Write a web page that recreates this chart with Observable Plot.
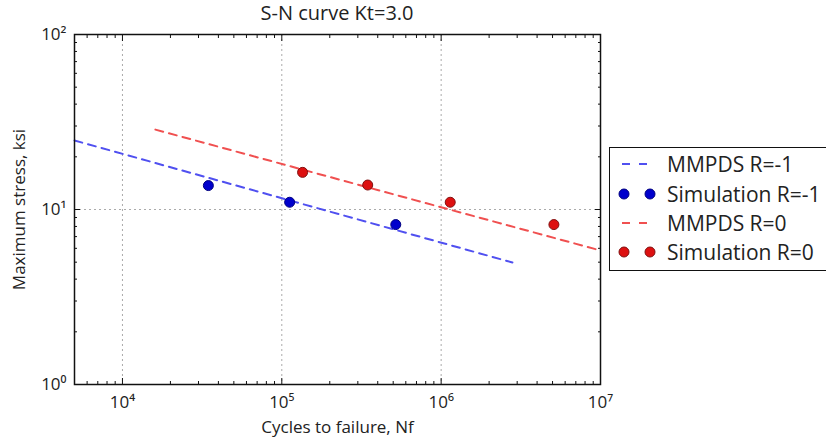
<!DOCTYPE html>
<html>
<head>
<meta charset="utf-8">
<script src="https://cdn.jsdelivr.net/npm/d3@7"></script>
<script src="https://cdn.jsdelivr.net/npm/@observablehq/plot@0.6"></script>
<style>
  body { margin: 0; background: #fff; font-family: "Open Sans", sans-serif; }
  #wrap { position: relative; width: 826px; height: 439px; }
  #title { position: absolute; left: 74px; width: 526px; top: 1px; line-height: 24px; text-align: center; font-size: 20px; color: #222; }
  #legend { position: absolute; left: 609px; top: 147px; width: 230px; height: 124px; border: 1.5px solid #111; box-sizing: border-box; background: #fff; }
  .row { position: absolute; left: 0; height: 30px; display: flex; align-items: center; font-size: 21px; color: #222; white-space: nowrap; }
  .row svg { margin-left: 8px; margin-right: 9px; }
</style>
</head>
<body>
<div id="wrap">
  <div id="chart"></div>
  <div id="title">S-N curve Kt=3.0</div>
  <div id="legend"></div>
</div>
<script>
// Data
const mmpdsNeg1Cycles = [5000, 2.8e6];
const mmpdsNeg1Stress = [24.8, 4.98];
const mmpds0Cycles = [1.61e4, 1.0e7];
const mmpds0Stress = [28.6, 5.83];
const simNeg1Cycles = [3.46e4, 1.12e5, 5.19e5];
const simNeg1Stress = [13.7, 11.0, 8.2];
const sim0Cycles = [1.35e5, 3.46e5, 1.14e6, 5.1e6];
const sim0Stress = [16.3, 13.8, 11.0, 8.2];
const xMajorTicks = [1e4, 1e5, 1e6, 1e7];
const xTickLabels = ["10⁴", "10⁵", "10⁶", "10⁷"];
const yMajorTicks = [1, 10, 100];
const yTickLabels = ["10⁰", "10¹", "10²"];
const legendLabels = ["MMPDS R=-1", "Simulation R=-1", "MMPDS R=0", "Simulation R=0"];

const blueLine = "#5050f0", redLine = "#f05050";
const blueDot = "#0000cc", redDot = "#dd1010";

const zip = (xs, ys) => xs.map((x, i) => ({x, y: ys[i]}));
const lineNeg1 = zip(mmpdsNeg1Cycles, mmpdsNeg1Stress);
const line0 = zip(mmpds0Cycles, mmpds0Stress);
const ptsNeg1 = zip(simNeg1Cycles, simNeg1Stress);
const pts0 = zip(sim0Cycles, sim0Stress);

const xMinor = [], yMinor = [];
for (let e = 3; e < 7; e++) for (let m = 2; m <= 9; m++) { const v = m * 10 ** e; if (v > 5000 && v < 1e7) xMinor.push(v); }
for (let e = 0; e < 2; e++) for (let m = 2; m <= 9; m++) yMinor.push(m * 10 ** e);

const xFmt = d => xTickLabels[xMajorTicks.indexOf(d)] ?? "";
const yFmt = d => yTickLabels[yMajorTicks.indexOf(d)] ?? "";

const chart = Plot.plot({
  width: 826, height: 439,
  marginLeft: 74, marginRight: 226, marginTop: 34, marginBottom: 55,
  style: {fontFamily: "Open Sans, sans-serif", background: "#fff"},
  x: {type: "log", domain: [5000, 1e7]},
  y: {type: "log", domain: [1, 100]},
  marks: [
    Plot.ruleX([1e4, 1e5, 1e6], {stroke: "#aaa", strokeDasharray: "2,3", strokeWidth: 1}),
    Plot.ruleY([10], {stroke: "#aaa", strokeDasharray: "2,3", strokeWidth: 1}),
    Plot.line(lineNeg1, {x: "x", y: "y", stroke: blueLine, strokeWidth: 2, strokeDasharray: "8,6"}),
    Plot.line(line0, {x: "x", y: "y", stroke: redLine, strokeWidth: 2, strokeDasharray: "8,6"}),
    Plot.dot(ptsNeg1, {x: "x", y: "y", r: 5, fill: blueDot, stroke: "#000080", strokeWidth: 1}),
    Plot.dot(pts0, {x: "x", y: "y", r: 5, fill: redDot, stroke: "#801010", strokeWidth: 1}),
    // inward ticks on all sides
    Plot.axisX(xMajorTicks, {anchor: "bottom", tickSize: -6, tickFormat: () => "", label: null, stroke: "#111"}),
    Plot.axisX(xMajorTicks, {anchor: "top", tickSize: -6, tickFormat: () => "", label: null, stroke: "#111"}),
    Plot.axisX(xMinor, {anchor: "bottom", tickSize: -3, tickFormat: () => "", label: null, stroke: "#111"}),
    Plot.axisX(xMinor, {anchor: "top", tickSize: -3, tickFormat: () => "", label: null, stroke: "#111"}),
    Plot.axisY(yMajorTicks, {anchor: "left", tickSize: -6, tickFormat: () => "", label: null, stroke: "#111"}),
    Plot.axisY(yMajorTicks, {anchor: "right", tickSize: -6, tickFormat: () => "", label: null, stroke: "#111"}),
    Plot.axisY(yMinor, {anchor: "left", tickSize: -3, tickFormat: () => "", label: null, stroke: "#111"}),
    Plot.axisY(yMinor, {anchor: "right", tickSize: -3, tickFormat: () => "", label: null, stroke: "#111"}),
    // tick labels and axis titles
    Plot.axisX(xMajorTicks, {anchor: "bottom", tickSize: 0, tickPadding: 11, tickFormat: xFmt, fontSize: 17, fill: "#222",
      label: "Cycles to failure, Nf", labelAnchor: "center", labelArrow: "none", labelOffset: 48}),
    Plot.axisY(yMajorTicks, {anchor: "left", tickSize: 0, tickPadding: 8, tickFormat: yFmt, fontSize: 17, fill: "#222",
      label: "Maximum stress, ksi", labelAnchor: "center", labelArrow: "none", labelOffset: 62}),
    Plot.frame({stroke: "#111", strokeWidth: 1.5})
  ]
});
chart.querySelectorAll("g[aria-label='x-axis label'] text, g[aria-label='y-axis label'] text").forEach(t => t.setAttribute("font-size", 17));
document.getElementById("chart").appendChild(chart);

// Legend
const legend = document.getElementById("legend");
const tops = [1, 31, 60, 89];
const kinds = [["line", blueLine], ["dot", blueDot], ["line", redLine], ["dot", redDot]];
legendLabels.forEach((lab, i) => {
  const row = document.createElement("div");
  row.className = "row";
  row.style.top = tops[i] + "px";
  const [kind, col] = kinds[i];
  const sym = kind === "line"
    ? `<svg width="40" height="12"><line x1="4" x2="36" y1="6" y2="6" stroke="${col}" stroke-width="2" stroke-dasharray="8,9"/></svg>`
    : `<svg width="40" height="12"><circle cx="6" cy="6" r="5" fill="${col}" stroke="${i===1?'#000080':'#801010'}"/><circle cx="32" cy="6" r="5" fill="${col}" stroke="${i===1?'#000080':'#801010'}"/></svg>`;
  row.innerHTML = sym + `<span>${lab}</span>`;
  legend.appendChild(row);
});
</script>
</body>
</html>
